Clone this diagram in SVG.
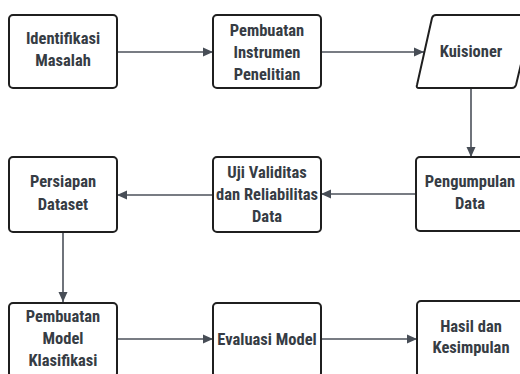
<svg xmlns="http://www.w3.org/2000/svg" width="520" height="374" viewBox="0 0 520 374">
  <defs>
    <marker id="arr" viewBox="0 0 10 10" refX="10" refY="5" markerWidth="10" markerHeight="10" markerUnits="userSpaceOnUse" orient="auto">
      <path d="M0,0.5 L10,5 L0,9.5 Z" fill="#474d56"/>
    </marker>
    <style>
      .box { fill: #ffffff; stroke: #1f1f1f; stroke-width: 2; }
      .lbl { font-family: "Liberation Sans Narrow", "Arial Narrow", "Roboto Condensed", "Liberation Sans", sans-serif; font-weight: bold; font-size: 16.5px; fill: #363c44; text-anchor: middle; }
      .edge { fill: none; stroke: #4b515a; stroke-width: 1.6; marker-end: url(#arr); }
    </style>
  </defs>
  <rect width="520" height="374" fill="#ffffff"/>

  <g id="connectors">
    <line class="edge" x1="117" y1="52" x2="213" y2="52"/>
    <line class="edge" x1="321" y1="52" x2="424" y2="52"/>
    <line class="edge" x1="471" y1="88" x2="471" y2="157"/>
    <line class="edge" x1="416" y1="194" x2="321" y2="194"/>
    <line class="edge" x1="213" y1="195" x2="117" y2="195"/>
    <line class="edge" x1="63" y1="232" x2="63" y2="302"/>
    <line class="edge" x1="117" y1="339" x2="213" y2="339"/>
    <line class="edge" x1="321" y1="339" x2="417" y2="339"/>
  </g>

  <g id="identifikasi">
    <rect class="box" x="9" y="15" width="108" height="73" rx="4"/>
    <text class="lbl" x="63" y="44">Identifikasi</text>
    <text class="lbl" x="63" y="66">Masalah</text>
  </g>
  <g id="pembuatan-instrumen">
    <rect class="box" x="213" y="15" width="108" height="73" rx="4"/>
    <text class="lbl" x="267" y="36">Pembuatan</text>
    <text class="lbl" x="267" y="58">Instrumen</text>
    <text class="lbl" x="267" y="80">Penelitian</text>
  </g>
  <g id="kuisioner">
    <path class="box" d="M436,15 L530,15 Q533,15 532,18 L516,85 Q515,88 512,88 L419,88 Q416,88 417,85 L432,18 Q433,15 436,15 Z"/>
    <text class="lbl" x="471" y="57">Kuisioner</text>
  </g>
  <g id="pengumpulan">
    <rect class="box" x="416" y="157" width="108" height="74" rx="4"/>
    <text class="lbl" x="470" y="187">Pengumpulan</text>
    <text class="lbl" x="470" y="209">Data</text>
  </g>
  <g id="uji">
    <rect class="box" x="213" y="157" width="108" height="75" rx="4"/>
    <text class="lbl" x="267" y="178">Uji Validitas</text>
    <text class="lbl" x="267" y="200">dan Reliabilitas</text>
    <text class="lbl" x="267" y="222">Data</text>
  </g>
  <g id="persiapan">
    <rect class="box" x="9" y="157" width="108" height="75" rx="4"/>
    <text class="lbl" x="63" y="187">Persiapan</text>
    <text class="lbl" x="63" y="210">Dataset</text>
  </g>
  <g id="pembuatan-model">
    <rect class="box" x="9" y="303" width="108" height="74" rx="4"/>
    <text class="lbl" x="63" y="322">Pembuatan</text>
    <text class="lbl" x="63" y="344">Model</text>
    <text class="lbl" x="63" y="366">Klasifikasi</text>
  </g>
  <g id="evaluasi">
    <rect class="box" x="213" y="303" width="108" height="74" rx="4"/>
    <text class="lbl" x="267" y="345">Evaluasi Model</text>
  </g>
  <g id="hasil">
    <rect class="box" x="417" y="301" width="108" height="76" rx="4"/>
    <text class="lbl" x="471" y="332">Hasil dan</text>
    <text class="lbl" x="471" y="353">Kesimpulan</text>
  </g>
</svg>
